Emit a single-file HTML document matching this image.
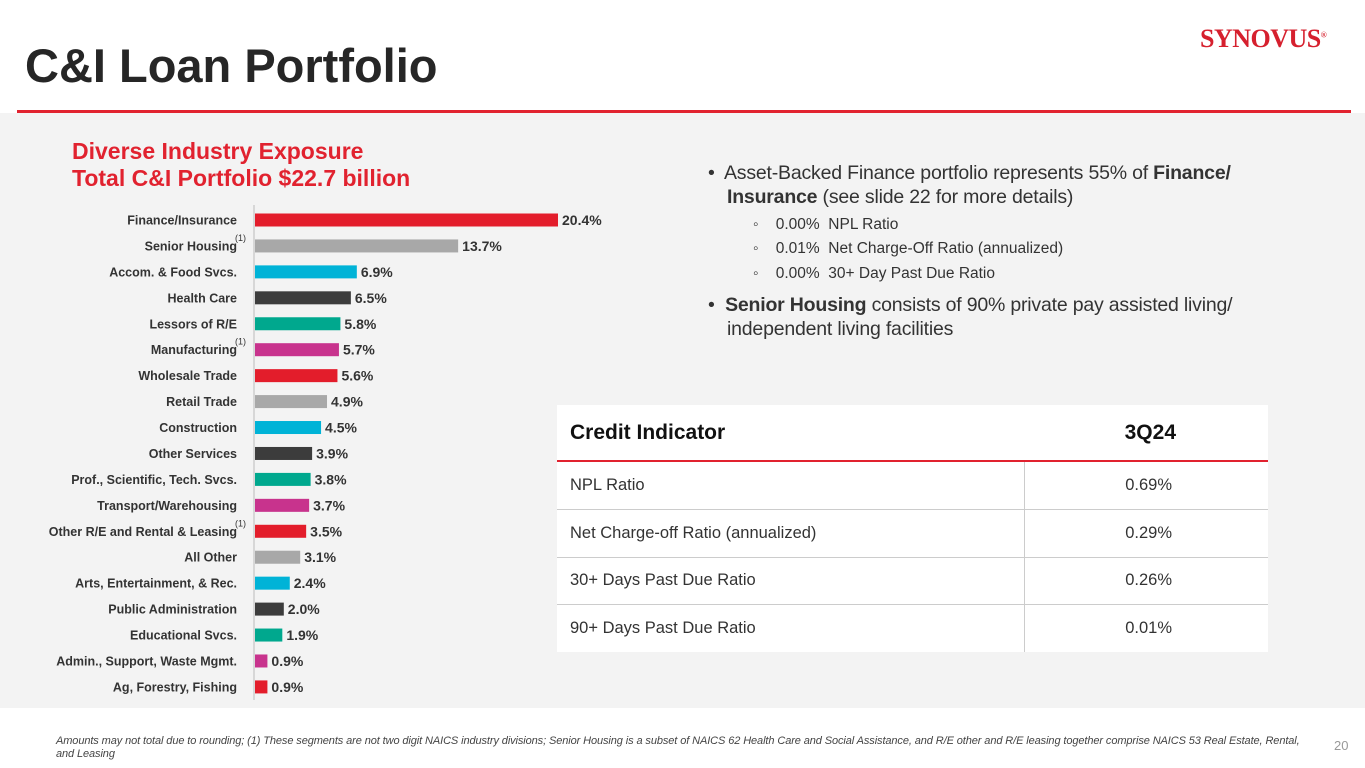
<!DOCTYPE html>
<html><head><meta charset="utf-8"><style>
body{margin:0;width:1365px;height:768px;position:relative;overflow:hidden;background:#fff;font-family:"Liberation Sans",sans-serif;color:#222}
.abs{position:absolute;white-space:nowrap}
.bul{font-size:19.5px;color:#333;letter-spacing:-0.2px}
.sub{font-size:15.5px;color:#333}
table{border-collapse:collapse}
</style></head><body>
<div class="abs" style="left:0;top:113px;width:1365px;height:595px;background:#f3f3f3"></div>
<div class="abs" style="left:25px;top:38px;font-size:47px;font-weight:bold;color:#262626;letter-spacing:0px">C&amp;I Loan Portfolio</div>
<div class="abs" style="left:1200px;top:24px;font-family:'Liberation Serif',serif;font-size:26px;font-weight:bold;color:#d6202e;letter-spacing:-0.5px">SYNOVUS<sup style="font-size:8px">®</sup></div>
<div class="abs" style="left:17px;top:110px;width:1334px;height:3px;background:#e1222f"></div>
<div class="abs" style="left:72px;top:138px;font-size:23px;font-weight:bold;color:#e1222f;line-height:27px">Diverse Industry Exposure<br>Total C&amp;I Portfolio $22.7 billion</div>

<svg class="abs" style="left:0;top:0" width="1365" height="768" id="chart"></svg>

<div class="abs bul" style="left:708px;top:162px">•&nbsp; Asset-Backed Finance portfolio represents 55% of <b>Finance/</b></div>
<div class="abs bul" style="left:727px;top:186px"><b>Insurance</b> (see slide 22 for more details)</div>
<div class="abs sub" style="left:753px;top:216px">◦&nbsp;&nbsp;&nbsp; 0.00%&nbsp; NPL Ratio</div>
<div class="abs sub" style="left:753px;top:240px">◦&nbsp;&nbsp;&nbsp; 0.01%&nbsp; Net Charge-Off Ratio (annualized)</div>
<div class="abs sub" style="left:753px;top:265px">◦&nbsp;&nbsp;&nbsp; 0.00%&nbsp; 30+ Day Past Due Ratio</div>
<div class="abs bul" style="left:708px;top:294px">•&nbsp; <b>Senior Housing</b> consists of 90% private pay assisted living/</div>
<div class="abs bul" style="left:727px;top:318px">independent living facilities</div>

<table class="abs" style="left:557px;top:405px;width:711px;background:#fff;font-size:16.5px;color:#333">
<tr style="height:56px;border-bottom:2px solid #e1222f"><th style="text-align:left;padding-left:13px;font-size:21px;color:#111">Credit Indicator</th><th style="text-align:right;padding-right:92px;font-size:21px;color:#111">3Q24</th></tr>
<tr style="height:48px;border-bottom:1px solid #ccc"><td style="padding-left:13px;border-right:1px solid #ccc;width:453px">NPL Ratio</td><td style="text-align:right;padding-right:96px">0.69%</td></tr>
<tr style="height:48px;border-bottom:1px solid #ccc"><td style="padding-left:13px;border-right:1px solid #ccc">Net Charge-off Ratio (annualized)</td><td style="text-align:right;padding-right:96px">0.29%</td></tr>
<tr style="height:47px;border-bottom:1px solid #ccc"><td style="padding-left:13px;border-right:1px solid #ccc">30+ Days Past Due Ratio</td><td style="text-align:right;padding-right:96px">0.26%</td></tr>
<tr style="height:48px"><td style="padding-left:13px;border-right:1px solid #ccc">90+ Days Past Due Ratio</td><td style="text-align:right;padding-right:96px">0.01%</td></tr>
</table>

<div class="abs" style="left:56px;top:735px;width:1250px;white-space:normal;font-size:11px;font-style:italic;color:#444;line-height:13px;letter-spacing:-0.1px">Amounts may not total due to rounding; (1) These segments are not two digit NAICS industry divisions; Senior Housing is a subset of NAICS 62 Health Care and Social Assistance, and R/E other and R/E leasing together comprise NAICS 53 Real Estate, Rental, and Leasing</div>
<div class="abs" style="left:1334px;top:738px;font-size:13px;color:#999">20</div>

<script>
const categories=["Finance/Insurance","Senior Housing","Accom. & Food Svcs.","Health Care","Lessors of R/E","Manufacturing","Wholesale Trade","Retail Trade","Construction","Other Services","Prof., Scientific, Tech. Svcs.","Transport/Warehousing","Other R/E and Rental & Leasing","All Other","Arts, Entertainment, & Rec.","Public Administration","Educational Svcs.","Admin., Support, Waste Mgmt.","Ag, Forestry, Fishing"];
const values=[20.4,13.7,6.9,6.5,5.8,5.7,5.6,4.9,4.5,3.9,3.8,3.7,3.5,3.1,2.4,2.0,1.9,0.9,0.9];
const footnoted=["Senior Housing","Manufacturing","Other R/E and Rental & Leasing"];
const palette=["#e31d2b","#a8a8a8","#00b3d7","#3c3c3c","#00a88e","#c8338d"];
const svg=document.getElementById('chart');
const NS='http://www.w3.org/2000/svg';
const x0=254,pxPer=304/20.4;
const x=v=>x0+v*pxPer;
const y=i=>220+i*25.94;
function mk(t,a){const e=document.createElementNS(NS,t);for(const k in a)e.setAttribute(k,a[k]);svg.appendChild(e);return e;}
const ax=mk('line',{x1:x0,x2:x0,y1:205,y2:700,stroke:'#bbb','stroke-width':1});


categories.forEach((c,i)=>{
  const r=mk('rect',{x:x0+1,y:y(i)-6.5,width:x(values[i])-x0-1,height:13,fill:palette[i%6]});
  
  
  const l=mk('text',{x:237,y:y(i)+4.5,'text-anchor':'end','font-size':12.5,'font-weight':'bold',fill:'#333','font-family':'Liberation Sans, sans-serif'});
  l.textContent=c;
  
  
  if(footnoted.includes(c)){
    const s=mk('text',{x:235,y:y(i)-5,'font-size':9,fill:'#333','font-family':'Liberation Sans, sans-serif'});
    s.textContent='(1)';
    
    
  }
  const v=mk('text',{x:x(values[i])+4,y:y(i)+5,'font-size':14,'font-weight':'bold',fill:'#333','font-family':'Liberation Sans, sans-serif'});
  v.textContent=values[i].toFixed(1)+'%';
  
  
});
</script>
</body></html>
